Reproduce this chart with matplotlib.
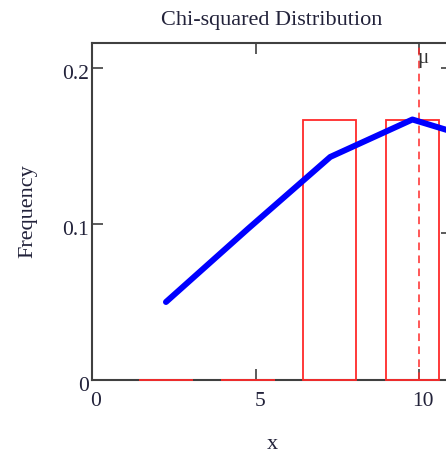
import matplotlib
matplotlib.use("Agg")
import matplotlib.pyplot as plt
import matplotlib.transforms as mtransforms

# histogram
bin_centers = [2.26, 4.77, 7.26, 9.79]
bin_freq = [0.0, 0.0, 0.167, 0.167]
bar_width = 1.63

# fitted curve at the bin centres
curve_x = [2.26, 4.77, 7.28, 9.79, 12.3]
curve_y = [0.050, 0.097, 0.143, 0.167, 0.151]

mu = 10.0
x_ticks = [0, 5, 10]
y_ticks = [0, 0.1, 0.2]
y_tick_labels = ["0", "0.1", "0.2"]

txt = "#22223a"
serif = ["Liberation Serif", "DejaVu Serif"]
plt.rcParams["font.family"] = serif

fig = plt.figure(figsize=(4.46, 4.53), dpi=100)
ax = fig.add_axes([92 / 446, 73 / 453, 360 / 446, 337.4 / 453])

ax.bar(bin_centers, bin_freq, width=bar_width, facecolor="none",
       edgecolor="#ff2a2a", linewidth=1.3, zorder=3, clip_on=False)
ax.plot(curve_x, curve_y, color="#0000ff", linewidth=4.3,
        solid_capstyle="round", solid_joinstyle="round", zorder=4)
ax.axvline(mu, color="#ff2a2a", linewidth=1.1, linestyle=(0, (5, 3.5)),
           zorder=3, clip_on=False)
ax.text(mu - 0.06, 0.206, "\u03bc", color="#333333", fontsize=15,
        ha="left", va="center")

ax.set_xlim(0, 11)
ax.set_ylim(0, 0.2163)
ax.set_xticks(x_ticks)
ax.set_xticklabels([str(t) for t in x_ticks])
ax.set_yticks(y_ticks)
ax.set_yticklabels(y_tick_labels)

for s in ax.spines.values():
    s.set_color("#404040")
    s.set_linewidth(1.5)

ax.tick_params(axis="both", direction="in", length=8, width=1.2,
               color="#404040", labelsize=15.5, labelcolor=txt)
ax.tick_params(axis="x", top=True, pad=9)
ax.tick_params(axis="y", pad=2)

# labels sit a little right / below their ticks in the original
dx = mtransforms.ScaledTranslation(4 / 100, 0, fig.dpi_scale_trans)
for lab in ax.get_xticklabels():
    lab.set_transform(lab.get_transform() + dx)
dy = mtransforms.ScaledTranslation(0, -4 / 100, fig.dpi_scale_trans)
for lab in ax.get_yticklabels():
    lab.set_transform(lab.get_transform() + dy)

sec = ax.secondary_yaxis("right")
sec.set_yticks([0.0942, 0.2])
sec.tick_params(direction="in", length=8, width=1.2, color="#404040",
                labelright=False)
sec.spines["right"].set_color("#404040")
sec.spines["right"].set_linewidth(1.5)

ax.set_title("Chi-squared Distribution", fontsize=16, color=txt, pad=13)
ax.set_xlabel("x", fontsize=16, color=txt, labelpad=17)
ax.set_ylabel("Frequency", fontsize=16, color=txt, labelpad=18)

fig.savefig("out.png", dpi=100)
